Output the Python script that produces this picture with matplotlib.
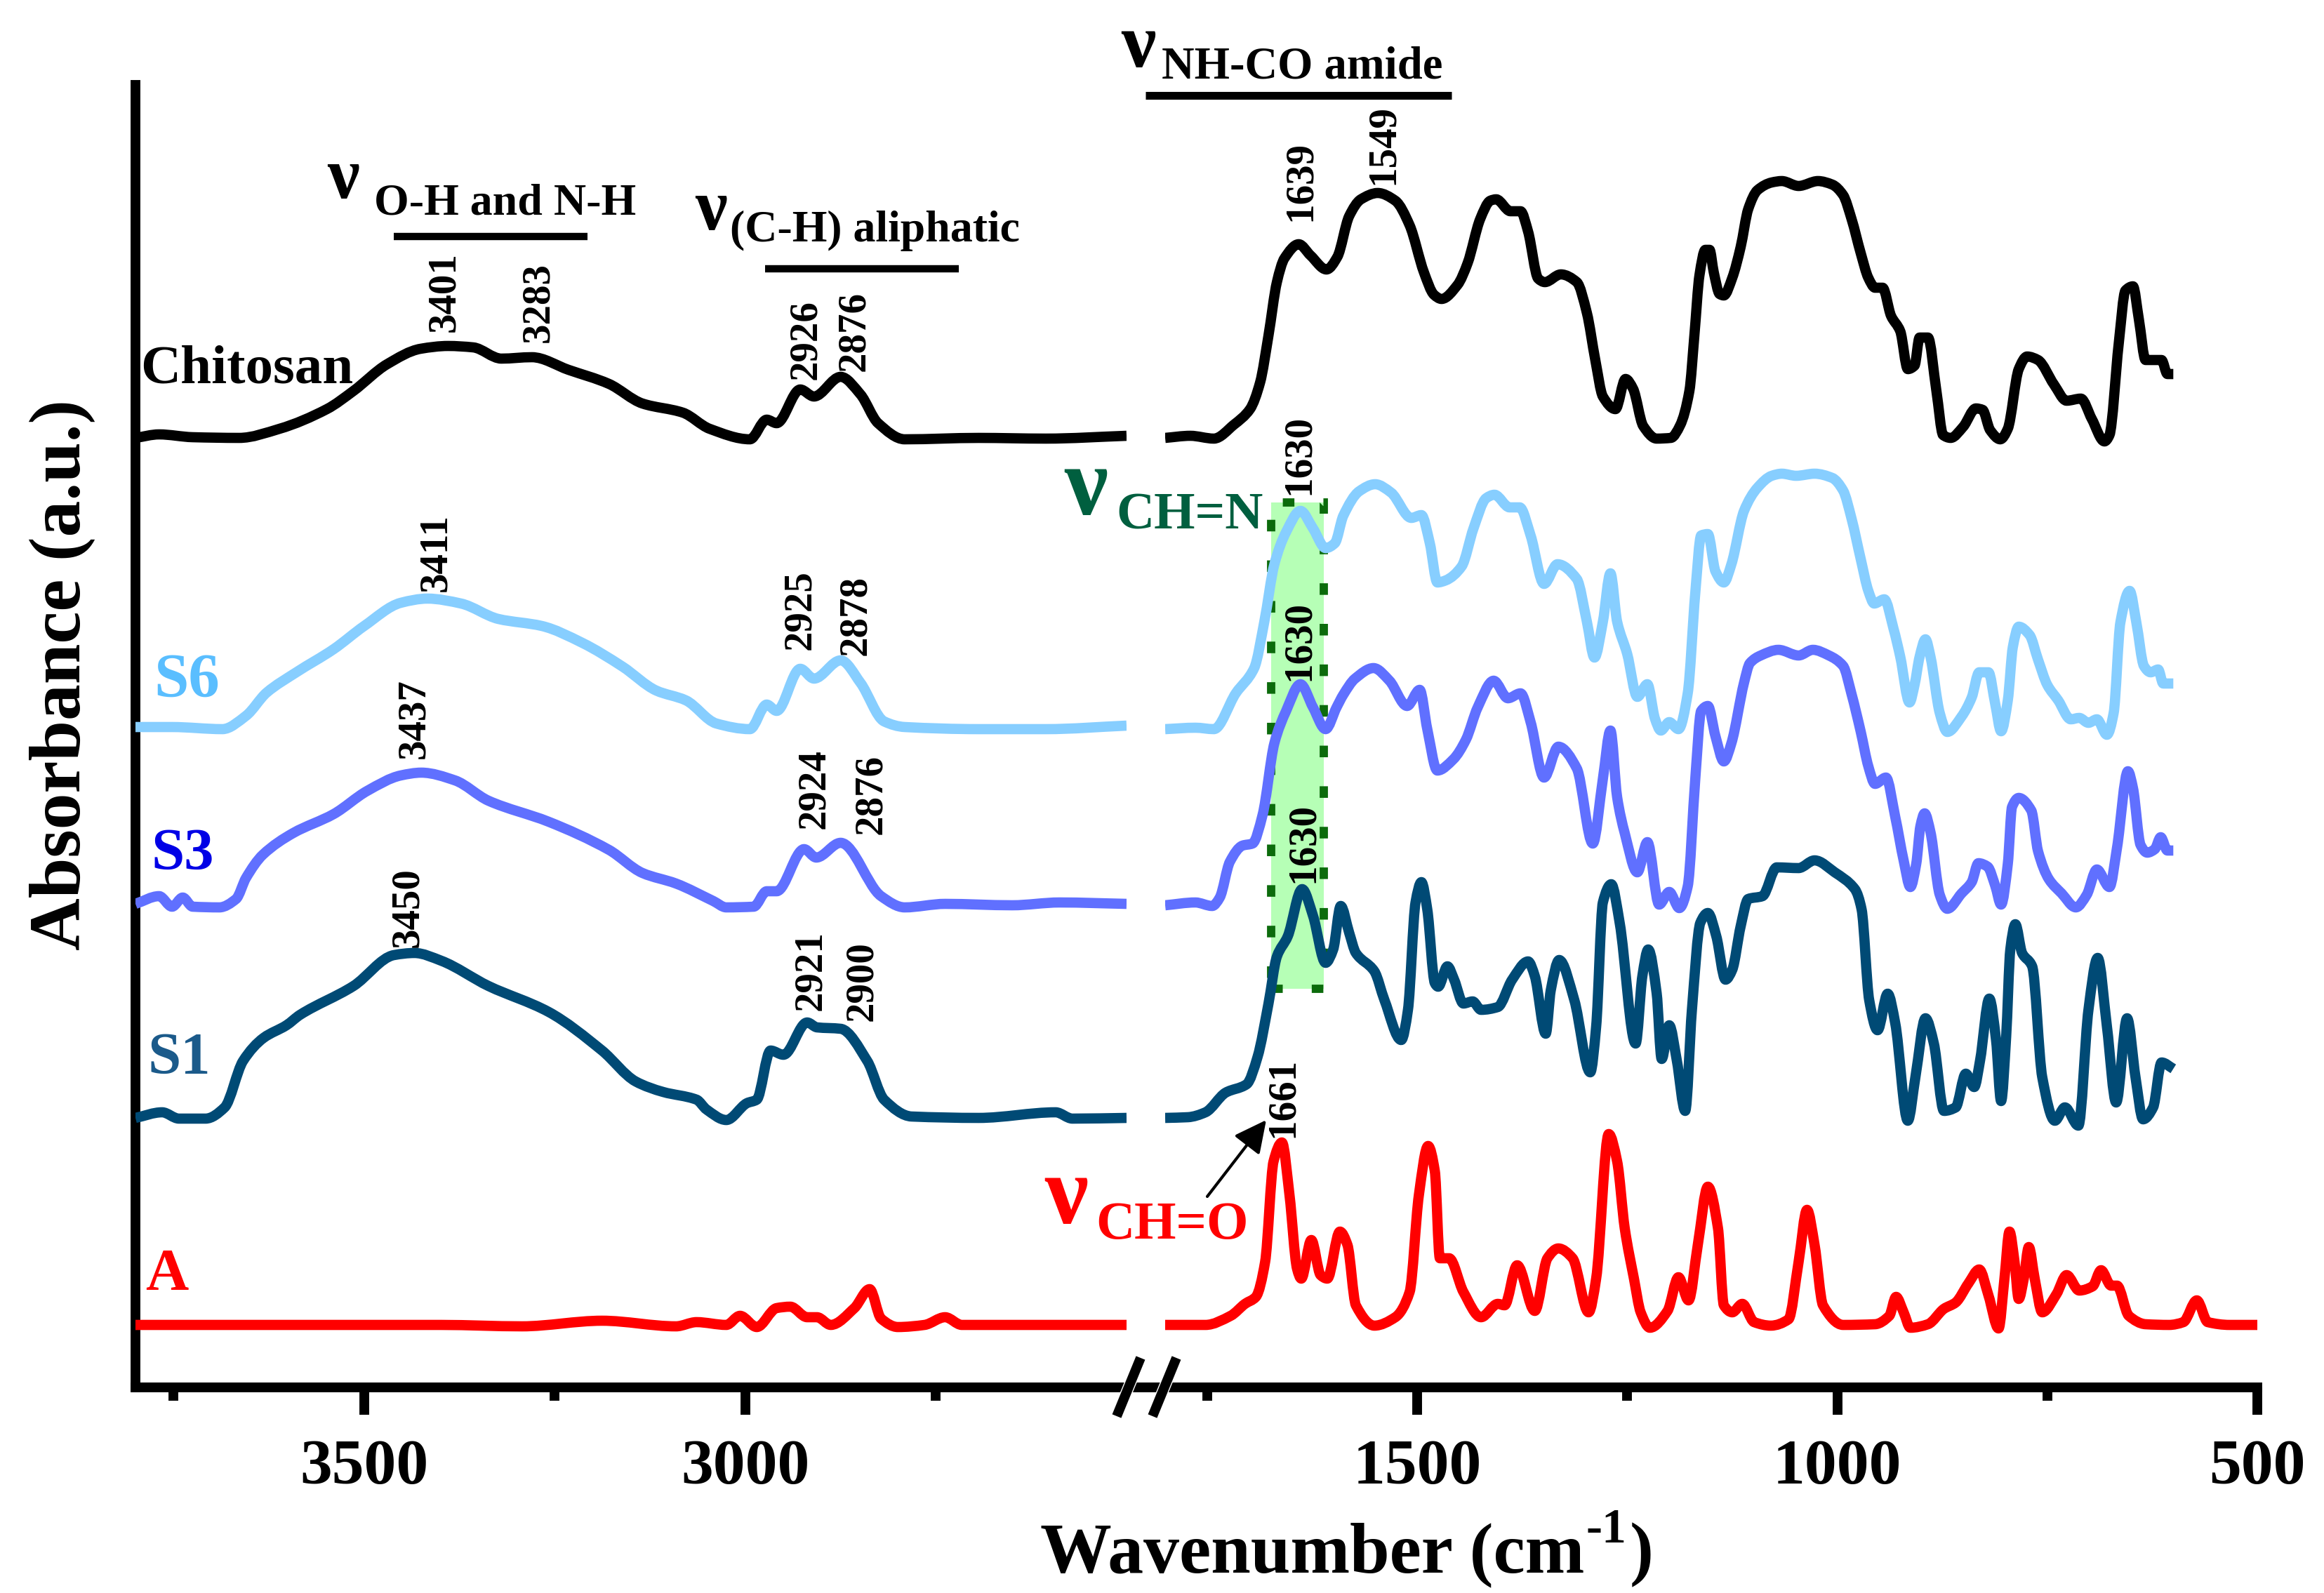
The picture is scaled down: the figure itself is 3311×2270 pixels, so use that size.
from matplotlib import pyplot as plt
from matplotlib.patches import Rectangle, FancyArrowPatch, PathPatch
from matplotlib.path import Path

plt.rcParams['font.family'] = ['Liberation Serif', 'DejaVu Serif']
plt.rcParams['font.weight'] = 'bold'

# spectra (wavenumber in cm-1, absorbance in arbitrary units)
chitosan_hi_wn = [3800, 3769, 3725, 3664, 3611, 3549, 3514, 3470, 3426, 3390, 3357, 3320, 3280, 3232, 3179, 3135, 3082, 3047, 2994, 2972, 2959, 2928, 2910, 2875, 2849, 2826, 2791, 2694, 2606, 2500]
chitosan_hi_abs = [1353, 1358, 1354, 1353, 1366, 1394, 1420, 1458, 1480, 1484, 1482, 1466, 1468, 1450, 1430, 1402, 1389, 1366, 1351, 1379, 1374, 1422, 1412, 1440, 1415, 1374, 1351, 1353, 1352, 1356]
chitosan_lo_wn = [1800, 1770, 1742, 1718, 1699, 1687, 1677, 1667, 1658, 1641, 1627, 1608, 1595, 1581, 1567, 1547, 1526, 1509, 1492, 1480, 1471, 1452, 1440, 1425, 1413, 1406, 1389, 1377, 1368, 1356, 1348, 1329, 1310, 1298, 1288, 1279, 1264, 1252, 1243, 1231, 1215, 1198, 1187, 1176, 1170, 1164, 1157, 1152, 1147, 1140, 1135, 1125, 1115, 1106, 1095, 1078, 1066, 1046, 1023, 1006, 993, 983, 972, 963, 955, 946, 936, 925, 916, 908, 902, 892, 882, 874, 865, 850, 835, 827, 818, 806, 797, 784, 774, 761, 742, 727, 710, 697, 682, 676, 665, 657, 648, 641, 633, 622, 614, 607, 600]
chitosan_lo_abs = [1353, 1356, 1352, 1372, 1394, 1432, 1499, 1575, 1609, 1629, 1613, 1593, 1611, 1669, 1693, 1702, 1691, 1656, 1589, 1557, 1551, 1571, 1602, 1665, 1691, 1693, 1676, 1676, 1647, 1580, 1575, 1586, 1575, 1531, 1464, 1412, 1394, 1437, 1423, 1370, 1352, 1353, 1371, 1420, 1500, 1585, 1621, 1621, 1589, 1558, 1556, 1581, 1625, 1679, 1706, 1717, 1719, 1712, 1719, 1714, 1699, 1665, 1616, 1581, 1567, 1567, 1527, 1505, 1451, 1456, 1496, 1496, 1420, 1357, 1353, 1369, 1395, 1393, 1364, 1351, 1366, 1451, 1469, 1464, 1429, 1406, 1409, 1380, 1348, 1357, 1487, 1563, 1569, 1522, 1464, 1464, 1464, 1444, 1444]

s6_hi_wn = [3800, 3752, 3686, 3655, 3628, 3589, 3540, 3500, 3452, 3417, 3373, 3324, 3267, 3214, 3161, 3117, 3078, 3038, 2994, 2972, 2959, 2928, 2910, 2875, 2849, 2818, 2791, 2694, 2606, 2500]
s6_hi_abs = [941, 941, 938, 957, 990, 1019, 1052, 1085, 1118, 1124, 1117, 1095, 1085, 1061, 1027, 993, 979, 946, 938, 973, 964, 1024, 1010, 1036, 1004, 949, 941, 938, 938, 943]
s6_lo_wn = [1800, 1764, 1742, 1716, 1694, 1682, 1670, 1656, 1639, 1624, 1609, 1598, 1588, 1569, 1550, 1531, 1507, 1495, 1485, 1476, 1466, 1447, 1433, 1418, 1408, 1390, 1378, 1365, 1349, 1333, 1310, 1298, 1289, 1279, 1270, 1262, 1250, 1238, 1226, 1217, 1210, 1200, 1189, 1178, 1169, 1162, 1154, 1145, 1135, 1126, 1111, 1095, 1078, 1066, 1049, 1027, 1006, 993, 983, 972, 963, 956, 944, 933, 925, 914, 908, 902, 895, 889, 878, 869, 852, 840, 831, 820, 812, 805, 797, 791, 784, 771, 761, 750, 737, 722, 712, 701, 691, 679, 671, 663, 652, 644, 635, 627, 618, 612, 600]
s6_lo_abs = [938, 940, 938, 989, 1025, 1091, 1173, 1219, 1249, 1224, 1196, 1203, 1242, 1277, 1287, 1275, 1239, 1243, 1203, 1147, 1150, 1170, 1224, 1267, 1272, 1254, 1254, 1214, 1145, 1173, 1152, 1091, 1040, 1091, 1160, 1091, 1045, 984, 1002, 953, 936, 948, 938, 989, 1132, 1214, 1216, 1163, 1147, 1173, 1249, 1282, 1299, 1302, 1299, 1302, 1296, 1278, 1238, 1180, 1135, 1117, 1123, 1081, 1041, 976, 1001, 1041, 1066, 1041, 961, 934, 956, 983, 1019, 1019, 974, 935, 979, 1055, 1084, 1072, 1037, 1001, 979, 952, 954, 947, 952, 930, 961, 1090, 1135, 1090, 1028, 1019, 1023, 1003, 1003]

s3_hi_wn = [3800, 3769, 3752, 3738, 3725, 3690, 3668, 3655, 3633, 3593, 3540, 3496, 3452, 3425, 3381, 3337, 3258, 3179, 3135, 3091, 3042, 3025, 2989, 2972, 2959, 2923, 2907, 2875, 2822, 2791, 2738, 2650, 2588, 2500]
s3_hi_abs = [689, 700, 685, 698, 685, 684, 696, 726, 759, 790, 817, 850, 872, 876, 865, 836, 806, 766, 733, 718, 693, 684, 685, 707, 707, 767, 755, 776, 700, 684, 689, 687, 691, 689]
s3_lo_wn = [1800, 1764, 1744, 1735, 1723, 1708, 1696, 1684, 1670, 1656, 1639, 1624, 1609, 1596, 1588, 1574, 1552, 1533, 1512, 1497, 1488, 1476, 1457, 1442, 1428, 1409, 1392, 1377, 1365, 1349, 1332, 1310, 1291, 1279, 1270, 1262, 1253, 1238, 1226, 1212, 1200, 1188, 1178, 1169, 1162, 1154, 1145, 1135, 1126, 1111, 1104, 1091, 1070, 1046, 1029, 1010, 993, 983, 972, 963, 955, 942, 931, 921, 913, 906, 901, 896, 889, 878, 869, 852, 840, 832, 821, 812, 805, 797, 792, 784, 769, 761, 748, 733, 716, 703, 691, 676, 667, 654, 648, 639, 631, 622, 615, 607, 600]
s3_lo_abs = [687, 691, 686, 698, 749, 772, 775, 816, 918, 964, 1002, 969, 938, 969, 987, 1010, 1025, 1007, 971, 994, 938, 879, 895, 923, 969, 1007, 982, 989, 948, 869, 913, 882, 775, 867, 936, 841, 790, 734, 777, 688, 706, 683, 714, 867, 964, 971, 928, 892, 918, 1004, 1032, 1043, 1051, 1043, 1051, 1043, 1028, 988, 934, 885, 860, 869, 813, 751, 713, 746, 800, 818, 791, 702, 682, 704, 720, 747, 742, 715, 688, 746, 827, 840, 822, 764, 724, 704, 684, 702, 738, 713, 769, 878, 854, 773, 762, 767, 784, 765, 765]

s1_hi_wn = [3800, 3765, 3743, 3708, 3683, 3659, 3632, 3602, 3584, 3514, 3461, 3434, 3399, 3337, 3258, 3188, 3144, 3108, 3064, 3051, 3025, 2998, 2985, 2967, 2950, 2919, 2906, 2875, 2840, 2818, 2782, 2694, 2593, 2571, 2500]
s1_hi_abs = [384, 392, 383, 383, 399, 465, 498, 516, 531, 572, 616, 619, 608, 572, 535, 480, 436, 421, 410, 396, 381, 405, 410, 480, 474, 520, 513, 511, 465, 410, 386, 384, 392, 383, 384]
s1_lo_wn = [1800, 1773, 1752, 1728, 1703, 1690, 1677, 1667, 1654, 1637, 1624, 1609, 1600, 1591, 1581, 1573, 1551, 1539, 1519, 1511, 1502, 1495, 1488, 1479, 1475, 1464, 1456, 1445, 1434, 1424, 1404, 1387, 1368, 1360, 1347, 1341, 1331, 1313, 1294, 1287, 1279, 1269, 1259, 1240, 1232, 1225, 1215, 1209, 1200, 1191, 1181, 1173, 1163, 1154, 1144, 1133, 1125, 1115, 1106, 1089, 1072, 1046, 1027, 1003, 979, 971, 962, 952, 940, 931, 916, 907, 895, 885, 873, 859, 847, 837, 830, 819, 811, 805, 799, 794, 788, 780, 768, 756, 741, 729, 713, 701, 690, 679, 668, 655, 645, 636, 624, 614, 600]
s1_lo_abs = [384, 385, 392, 420, 432, 471, 547, 614, 643, 710, 672, 605, 624, 686, 648, 619, 593, 552, 495, 538, 691, 720, 681, 576, 571, 600, 581, 547, 550, 538, 542, 581, 607, 586, 504, 566, 609, 552, 449, 514, 691, 717, 662, 490, 586, 624, 562, 468, 516, 466, 394, 538, 662, 676, 643, 581, 595, 657, 696, 700, 741, 740, 751, 734, 710, 681, 552, 509, 561, 519, 380, 442, 526, 490, 394, 399, 447, 428, 466, 554, 495, 408, 499, 624, 660, 619, 600, 442, 380, 399, 373, 538, 612, 514, 406, 526, 442, 382, 399, 463, 454]

a_hi_wn = [3800, 3399, 3293, 3188, 3091, 3064, 3025, 3007, 2985, 2959, 2941, 2919, 2906, 2888, 2857, 2837, 2822, 2800, 2765, 2738, 2716, 2606, 2500]
a_hi_abs = [89, 89, 87, 95, 87, 93, 89, 102, 86, 113, 115, 100, 100, 89, 113, 140, 98, 86, 89, 100, 89, 89, 89]
a_lo_wn = [1800, 1752, 1722, 1705, 1692, 1681, 1671, 1661, 1652, 1643, 1638, 1626, 1615, 1607, 1592, 1583, 1573, 1551, 1526, 1509, 1498, 1487, 1479, 1473, 1462, 1445, 1424, 1404, 1396, 1381, 1360, 1345, 1332, 1315, 1296, 1287, 1272, 1262, 1253, 1242, 1234, 1223, 1202, 1189, 1177, 1166, 1154, 1142, 1135, 1125, 1113, 1099, 1079, 1058, 1046, 1036, 1027, 1017, 993, 955, 938, 930, 921, 913, 892, 873, 859, 844, 831, 820, 808, 801, 795, 789, 784, 778, 772, 765, 756, 739, 727, 712, 696, 686, 674, 667, 653, 633, 605, 588, 572, 559, 533, 500]
a_lo_abs = [89, 89, 102, 119, 129, 179, 322, 349, 274, 169, 155, 210, 160, 155, 222, 203, 117, 88, 100, 136, 274, 344, 308, 184, 184, 136, 100, 119, 117, 174, 109, 184, 198, 184, 107, 155, 361, 322, 227, 155, 107, 85, 109, 157, 124, 203, 286, 227, 117, 107, 119, 93, 88, 97, 179, 253, 203, 117, 89, 90, 102, 129, 107, 85, 90, 112, 121, 148, 168, 131, 84, 155, 222, 179, 126, 155, 200, 155, 107, 133, 160, 138, 144, 167, 145, 145, 102, 90, 89, 93, 124, 93, 89, 89]

series_colors = ['black', '#87CEFF', '#6070FF', '#004A75', '#FF0000']

hi_ticks = [3500, 3000]
hi_minor = [3750, 3250, 2750]
lo_ticks = [1500, 1000, 500]
lo_minor = [1750, 1250, 750]

# peak labels: text, x and y (bottom) of the label on the canvas
peak_labels = ['3401', '3283', '2926', '2876', '1639', '1549', '1630', '3411', '2925', '2878', '3437', '2924', '2876', '3450', '2921', '2900', '1630', '1630', '1661']
peak_x = [633, 767, 1148, 1217, 1853, 1971, 1851, 621, 1140, 1219, 590, 1160, 1241, 581, 1155, 1228, 1851, 1857, 1828]
peak_y = [473, 488, 541, 529, 315, 263, 705, 843, 926, 934, 1081, 1181, 1189, 1350, 1440, 1455, 970, 1258, 1621]

W, H = 3312, 2270
fig = plt.figure(figsize=(W / 100, H / 100), dpi=100)

AX_TOP, AX_BOTTOM = 121, 1977


def make_axes(x0, x1, xlim):
    ax = fig.add_axes([x0 / W, 1 - AX_BOTTOM / H, (x1 - x0) / W, (AX_BOTTOM - AX_TOP) / H])
    ax.set_xlim(*xlim)
    ax.set_ylim(0, AX_BOTTOM - AX_TOP)
    ax.patch.set_alpha(0)
    for side in ['top', 'right', 'left']:
        ax.spines[side].set_visible(False)
    ax.spines['bottom'].set_linewidth(10)
    ax.set_yticks([])
    ax.tick_params(axis='x', which='major', length=28, width=10, pad=25, labelsize=66)
    ax.tick_params(axis='x', which='minor', length=14, width=10)
    return ax


# the instrument trace is smooth, so join the read points with flat-topped cubic pieces
def slopes(x, y):
    d = [(y[i + 1] - y[i]) / (x[i + 1] - x[i]) for i in range(len(x) - 1)]
    m = [d[0]]
    for i in range(1, len(x) - 1):
        if d[i - 1] * d[i] <= 0:
            m.append(0)
        else:
            m.append(2 * d[i - 1] * d[i] / (d[i - 1] + d[i]))
    m.append(d[-1])
    return m


def draw_curve(ax, x, y, color):
    m = slopes(x, y)
    verts = [(x[0], y[0])]
    codes = [Path.MOVETO]
    for i in range(len(x) - 1):
        dx = (x[i + 1] - x[i]) / 3
        verts += [(x[i] + dx, y[i] + m[i] * dx),
                  (x[i + 1] - dx, y[i + 1] - m[i + 1] * dx),
                  (x[i + 1], y[i + 1])]
        codes += [Path.CURVE4] * 3
    ax.add_patch(PathPatch(Path(verts, codes), facecolor='none', edgecolor=color, linewidth=10.5,
                           joinstyle='round', capstyle='butt', zorder=3))


ax_hi = make_axes(193, 1605, (3800, 2500))
ax_lo = make_axes(1660, 3216, (1800, 500))
ax_hi.spines['left'].set_visible(True)
ax_hi.spines['left'].set_linewidth(10)

ax_hi.set_xticks(hi_ticks)
ax_hi.set_xticks(hi_minor, minor=True)
ax_lo.set_xticks(lo_ticks)
ax_lo.set_xticks(lo_minor, minor=True)

# imine band behind the curves
ax_lo.add_patch(Rectangle((1673.5, 568), 1611 - 1673.5, 1261 - 568, facecolor='#B6FFB6',
                          edgecolor='none', zorder=1))
ax_lo.add_patch(Rectangle((1673.5, 568), 1611 - 1673.5, 1261 - 568, facecolor='none',
                          edgecolor='#0C6B0C', linewidth=8.5, linestyle=(0, (1.4, 3.5)), zorder=1.5))

hi_wn = [chitosan_hi_wn, s6_hi_wn, s3_hi_wn, s1_hi_wn, a_hi_wn]
hi_abs = [chitosan_hi_abs, s6_hi_abs, s3_hi_abs, s1_hi_abs, a_hi_abs]
lo_wn = [chitosan_lo_wn, s6_lo_wn, s3_lo_wn, s1_lo_wn, a_lo_wn]
lo_abs = [chitosan_lo_abs, s6_lo_abs, s3_lo_abs, s1_lo_abs, a_lo_abs]

for i in range(5):
    draw_curve(ax_hi, hi_wn[i], hi_abs[i], series_colors[i])
    draw_curve(ax_lo, lo_wn[i], lo_abs[i], series_colors[i])

# canvas in pixels for the annotations
ov = fig.add_axes([0, 0, 1, 1])
ov.set_xlim(0, W)
ov.set_ylim(H, 0)
ov.axis('off')
ov.patch.set_alpha(0)


def label(x, y, s, size, color='black', **kw):
    ov.text(x, y, s, fontsize=size, color=color, va='baseline', ha='left', **kw)


# axis between the two panels and the break marks
ov.plot([1605, 1660], [AX_BOTTOM, AX_BOTTOM], color='black', linewidth=10, solid_capstyle='butt')
for x0 in [1591, 1642]:
    ov.plot([x0, x0 + 34], [2018, 1935], color='white', linewidth=12, solid_capstyle='butt')
    ov.plot([x0, x0 + 34], [2018, 1935], color='black', linewidth=10, solid_capstyle='butt')

# axis titles
label(1482, 2240, 'Wavenumber (cm', 73.3)
label(2260, 2198, '-1', 50)
label(2322, 2240, ')', 73.3)
ov.text(89, 962, 'Absorbance (a.u.)', fontsize=74.5, rotation=90, ha='center', va='center')

# sample names
label(200, 546, 'Chitosan', 57)
label(219, 992, 'S6', 64, color='#5ABEFF')
label(215, 1239, 'S3', 61, color='#0000E6')
label(210, 1530, 'S1', 61, color='#1B5A8A')
label(207, 1838, 'A', 61, color='#FF0000')

# band assignments
ov.plot([561, 837], [337, 337], color='black', linewidth=7.5, solid_capstyle='butt')
ov.plot([1090, 1366], [383, 383], color='black', linewidth=7.5, solid_capstyle='butt')
ov.plot([1632, 2068], [136, 136], color='black', linewidth=8, solid_capstyle='butt')

label(466, 282, 'ν', 74)
label(533, 305, 'O-H and N-H', 46)
label(990, 327, 'ν', 74)
label(1040, 344, '(C-H) aliphatic', 46)
label(1597, 95, 'ν', 80)
label(1655, 112, 'NH-CO amide', 46.5)
label(1516, 733, 'ν', 100, color='#005F3F')
label(1590, 753, 'CH=N', 54, color='#005F3F')
label(1488, 1743, 'ν', 100, color='#FF0000')
label(1561, 1765, 'CH=O', 55, color='#FF0000')

for s, x, y in zip(peak_labels, peak_x, peak_y):
    ov.text(x, y, s, fontsize=41, rotation=90, ha='center', va='bottom')

ov.add_patch(FancyArrowPatch((1720, 1705), (1804, 1596), arrowstyle='-|>', mutation_scale=70,
                             linewidth=3, color='black', shrinkA=0, shrinkB=0))

fig.savefig('out.png', dpi=100)
